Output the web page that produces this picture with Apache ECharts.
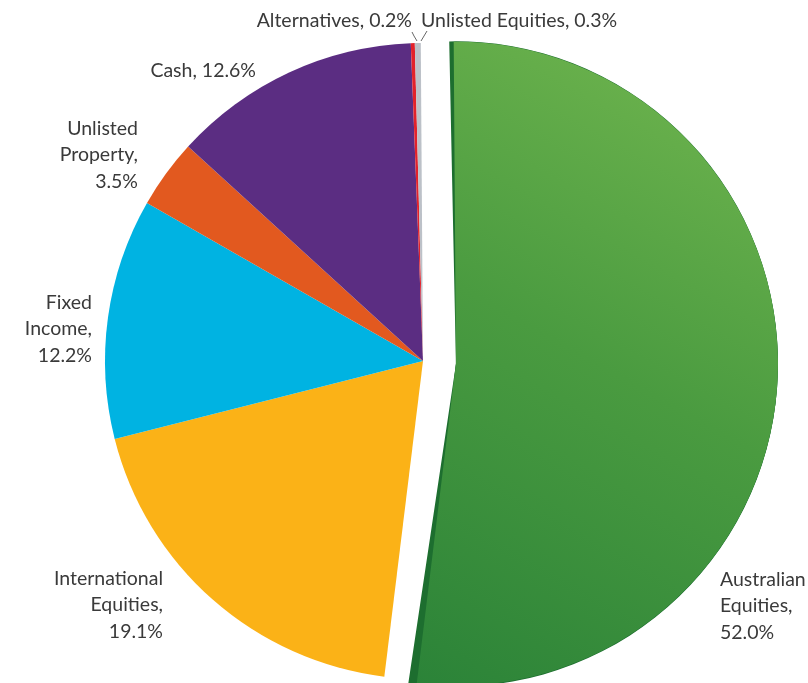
<!DOCTYPE html>
<html>
<head>
<meta charset="utf-8">
<script src="https://cdn.jsdelivr.net/npm/echarts@6/dist/echarts.min.js"></script>
<style>
  html, body { margin: 0; padding: 0; background: #fff; }
  #chart { width: 808px; height: 683px; }
</style>
</head>
<body>
<div id="chart"></div>
<script>
  // asset allocation, clockwise from 12 o'clock
  var categories = ['Australian Equities', 'International Equities', 'Fixed Income',
    'Unlisted Property', 'Cash', 'Alternatives', 'Unlisted Equities'];
  var values = [52.0, 19.1, 12.2, 3.5, 12.6, 0.2, 0.3];
  // how each label is broken into lines
  var labelTexts = ['Australian\nEquities,\n52.0%', 'International\nEquities,\n19.1%',
    'Fixed\nIncome,\n12.2%', 'Unlisted\nProperty,\n3.5%', 'Cash, 12.6%',
    'Alternatives, 0.2%', 'Unlisted Equities, 0.3%'];

  var colors = ['#4b9c40', '#fbb217', '#00b3e2', '#e2591f', '#5b2d82', '#e3222b', '#bcc1c8'];
  var greenFill = new echarts.graphic.LinearGradient(1, 0, 0, 1, [
    {offset: 0, color: '#74b850'},
    {offset: 0.5, color: '#4a9b40'},
    {offset: 1, color: '#2b8338'}
  ]);
  var greenEdge = '#1d6e2f';

  // label placement (page pixels)
  var labelPos = [
    {x: 720, y: 566, align: 'left'},
    {x: 163, y: 565, align: 'right'},
    {x: 92, y: 289, align: 'right'},
    {x: 138, y: 115, align: 'right'},
    {x: 256, y: 57, align: 'right'},
    {x: 412, y: 7, align: 'right'},
    {x: 421, y: 7, align: 'left'}
  ];
  var leaderLines = {
    5: [[417, 41], [414, 36], [412, 32]],
    6: [[421, 41], [424, 36], [427, 31]]
  };

  var START = 90.4;

  // only the big slice is painted, the rest left clear
  function bigSlice(color) {
    return categories.map(function (name, i) {
      return {
        name: name,
        value: values[i],
        selected: i === 0,
        itemStyle: {color: i === 0 ? color : 'rgba(0,0,0,0)'}
      };
    });
  }
  function bigSeries(color, start) {
    return {
      type: 'pie',
      silent: true,
      center: [426, 362],
      radius: 322,
      startAngle: start,
      selectedMode: 'single',
      selectedOffset: 30,
      label: {show: false},
      labelLine: {show: false},
      data: bigSlice(color)
    };
  }

  var mainData = categories.map(function (name, i) {
    return {
      name: name,
      value: values[i],
      itemStyle: {color: i === 0 ? 'rgba(0,0,0,0)' : colors[i]},
      label: {formatter: labelTexts[i]},
      labelLine: {show: i >= 5}
    };
  });

  var myChart = echarts.init(document.getElementById('chart'));
  myChart.setOption({
    animation: false,
    series: [
      // bevelled edges of the pulled-out slice
      bigSeries(greenEdge, START + 0.8),
      bigSeries(greenEdge, START - 1.5),
      bigSeries(greenFill, START),
      {
        name: 'Asset allocation',
        type: 'pie',
        center: [423, 361],
        radius: 318,
        startAngle: START,
        avoidLabelOverlap: false,
        label: {
          show: true,
          position: 'outside',
          width: 240,
          overflow: 'none',
          color: '#3a3a3a',
          fontFamily: 'Lato, "Open Sans", sans-serif',
          fontSize: 19.5,
          lineHeight: 26.5
        },
        labelLine: {
          lineStyle: {color: '#666', width: 1}
        },
        labelLayout: function (params) {
          var p = labelPos[params.dataIndex];
          var res = {x: p.x, y: p.y, align: p.align, verticalAlign: 'top'};
          if (leaderLines[params.dataIndex]) {
            res.labelLinePoints = leaderLines[params.dataIndex];
          }
          return res;
        },
        emphasis: {scale: false},
        data: mainData
      }
    ]
  });
</script>
</body>
</html>
